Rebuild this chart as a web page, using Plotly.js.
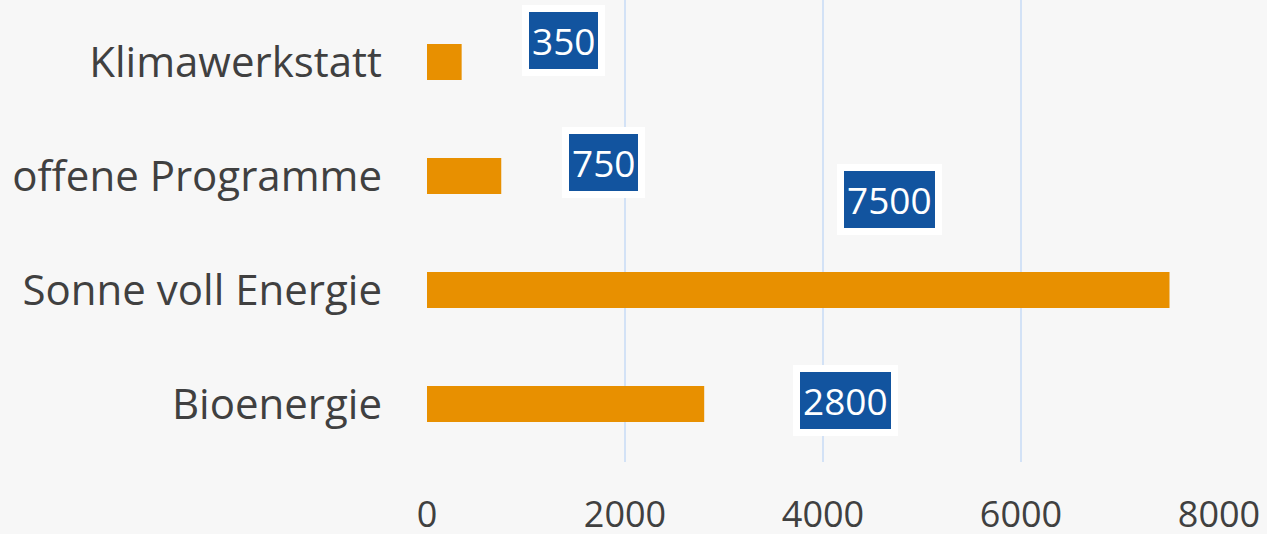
<!DOCTYPE html>
<html>
<head>
<meta charset="utf-8">
<script src="https://cdn.plot.ly/plotly-3.0.1.min.js"></script>
<style>html,body{margin:0;padding:0;background:#F7F7F7;}#chart{width:1267px;height:534px;}</style>
</head>
<body>
<div id="chart"></div>
<script>
const categories = ["Bioenergie", "Sonne voll Energie", "offene Programme", "Klimawerkstatt"];
const values = [2800, 7500, 750, 350];
const tickValues = [0, 2000, 4000, 6000, 8000];
const tickLabels = ["0", "2000", "4000", "6000", "8000"];
// label callout pixel offsets (style, not data)
const labelShiftX = [141, -280, 102, 102];
const labelShiftY = [3, 90, 14, 22];

const FONT = "Open Sans, Segoe UI, sans-serif";

const trace = {
  type: "bar",
  orientation: "h",
  x: values,
  y: categories,
  marker: {color: "#E89000"},
  width: 0.316,
  hoverinfo: "x+y"
};

const annotations = values.map((v, i) => ({
  x: v,
  y: categories[i],
  xref: "x", yref: "y",
  text: String(v),
  showarrow: false,
  xanchor: "center", yanchor: "middle",
  xshift: labelShiftX[i],
  yshift: labelShiftY[i],
  font: {family: FONT, size: 37, color: "#FFFFFF"},
  bgcolor: "#12549F",
  bordercolor: "#FFFFFF",
  borderwidth: 7,
  borderpad: 3
}));

const layout = {
  width: 1267, height: 534,
  paper_bgcolor: "#F7F7F7",
  plot_bgcolor: "#F7F7F7",
  margin: {l: 427, r: 48, t: 0, b: 72},
  showlegend: false,
  xaxis: {
    range: [0, 8000],
    tickvals: tickValues,
    ticktext: tickLabels,
    showgrid: true,
    gridcolor: "#D3E2F6",
    gridwidth: 2,
    zeroline: false,
    showline: false,
    ticks: "",
    ticklabelstandoff: 28,
    tickfont: {family: FONT, size: 36, color: "#404040"}
  },
  yaxis: {
    type: "category",
    categoryorder: "array",
    categoryarray: categories,
    range: [-0.509, 3.544],
    showgrid: false,
    zeroline: false,
    showline: false,
    ticks: "",
    ticklabelstandoff: 44,
    tickfont: {family: FONT, size: 42, color: "#404040"}
  },
  annotations: annotations
};

Plotly.newPlot("chart", [trace], layout, {displayModeBar: false, staticPlot: true});
</script>
</body>
</html>
